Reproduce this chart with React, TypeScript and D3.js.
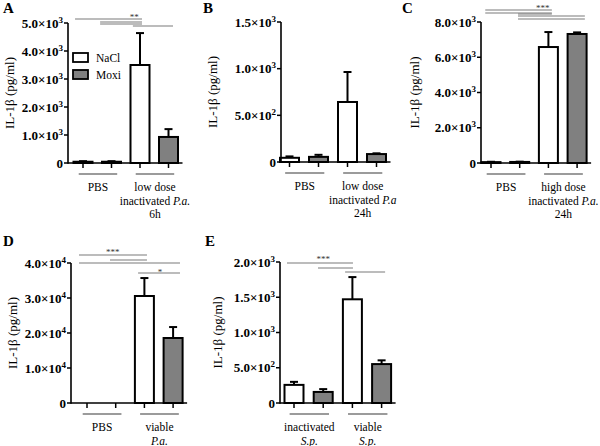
import React from "react";
import * as d3 from "d3";

const W = 600;
const H = 446;
const FONT = "'Liberation Serif', 'Times New Roman', serif";

const seriesNames = ["NaCl", "Moxi"];
const seriesFills = ["#ffffff", "#808080"];

// bar order: PBS NaCl, PBS Moxi, stim NaCl, stim Moxi
const meansA = [45, 45, 3500, 930];
const semA = [20, 20, 1140, 280];
const ticksA = [0, 1000, 2000, 3000, 4000, 5000];

const meansB = [45, 55, 643, 85];
const semB = [15, 22, 321, 8];
const ticksB = [0, 500, 1000, 1500];

const meansC = [50, 60, 6580, 7320];
const semC = [20, 15, 850, 90];
const ticksC = [0, 2000, 4000, 6000, 8000];

const meansD = [0, 0, 30570, 18570];
const semD = [0, 0, 5130, 3130];
const ticksD = [0, 10000, 20000, 30000, 40000];

const meansE = [257, 157, 1471, 552];
const semE = [43, 40, 315, 53];
const ticksE = [0, 500, 1000, 1500, 2000];

type Seg = { t: string; it?: boolean };
const groupsA: Seg[][][] = [
  [[{ t: "PBS" }]],
  [[{ t: "low dose" }], [{ t: "inactivated " }, { t: "P.a.", it: true }], [{ t: "6h" }]],
];
const groupsB: Seg[][][] = [
  [[{ t: "PBS" }]],
  [[{ t: "low dose" }], [{ t: "inactivated " }, { t: "P.a", it: true }], [{ t: "24h" }]],
];
const groupsC: Seg[][][] = [
  [[{ t: "PBS" }]],
  [[{ t: "high dose" }], [{ t: "inactivated " }, { t: "P.a.", it: true }], [{ t: "24h" }]],
];
const groupsD: Seg[][][] = [
  [[{ t: "PBS" }]],
  [[{ t: "viable" }], [{ t: "P.a.", it: true }]],
];
const groupsE: Seg[][][] = [
  [[{ t: "inactivated" }], [{ t: "S.p.", it: true }]],
  [[{ t: "viable" }], [{ t: "S.p.", it: true }]],
];

// significance brackets: [from bar index, to bar index, y position]
const sigA = [[-0.28, 2.07, 19], [0.6, 2.07, 22], [0.6, 2.07, 24], [1.75, 3.16, 26]];
const starsA = [[1.8, 17, "**"]];
const sigC = [[-0.2, 2.12, 10], [-0.2, 2.12, 13], [0.94, 2.12, 14], [0.94, 3.27, 16], [0.94, 3.27, 19]];
const starsC = [[1.8, 8, "***"]];
const sigD = [[-0.28, 2.09, 255], [0.8, 2.09, 260], [-0.28, 3.24, 263], [1.78, 3.24, 273]];
const starsD = [[0.9, 252, "***"], [2.54, 272, "*"]];
const sigE = [[-0.24, 2.02, 263], [0.82, 2.02, 268], [1.75, 3.12, 272]];
const starsE = [[1.0, 259, "***"]];

type PanelCfg = {
  letter: string;
  lx: number;
  ly: number;
  axisX: number;
  c0: number;
  step: number;
  y0: number;
  yTop: number;
  max: number;
  ticks: number[];
  means: number[];
  sem: number[];
  groups: Seg[][][];
  sig: any[];
  stars: any[];
  labelX: number;
  legend?: boolean;
};

const panels: PanelCfg[] = [
  { letter: "A", lx: 3, ly: 13, axisX: 68, c0: 83, step: 28.5, y0: 163, yTop: 23, max: 5000, ticks: ticksA, means: meansA, sem: semA, groups: groupsA, sig: sigA, stars: starsA, labelX: 9, legend: true },
  { letter: "B", lx: 203, ly: 13, axisX: 281, c0: 289.5, step: 29, y0: 162, yTop: 22, max: 1500, ticks: ticksB, means: meansB, sem: semB, groups: groupsB, sig: [], stars: [], labelX: 212 },
  { letter: "C", lx: 402, ly: 13, axisX: 481, c0: 491, step: 28.7, y0: 163, yTop: 22, max: 8000, ticks: ticksC, means: meansC, sem: semC, groups: groupsC, sig: sigC, stars: starsC, labelX: 414 },
  { letter: "D", lx: 3, ly: 246, axisX: 71, c0: 87, step: 28.7, y0: 403, yTop: 263, max: 40000, ticks: ticksD, means: meansD, sem: semD, groups: groupsD, sig: sigD, stars: starsD, labelX: 12 },
  { letter: "E", lx: 205, ly: 246, axisX: 280, c0: 294, step: 29.2, y0: 403, yTop: 262, max: 2000, ticks: ticksE, means: meansE, sem: semE, groups: groupsE, sig: sigE, stars: starsE, labelX: 217 },
];

function tickLabel(v: number) {
  if (v === 0) return <tspan>0</tspan>;
  const e = Math.floor(Math.log10(v));
  const m = (v / Math.pow(10, e)).toFixed(1);
  return (
    <>
      <tspan>{m}×10</tspan>
      <tspan dy={-5} fontSize={9}>{String(e)}</tspan>
    </>
  );
}

function Panel({ p }: { p: PanelCfg }) {
  const y = d3.scaleLinear().domain([0, p.max]).range([p.y0, p.yTop]);
  const x = d3.scaleLinear().domain([0, 3]).range([p.c0, p.c0 + 3 * p.step]);
  const bw = 19;
  const xEnd = x(3) + 14;
  const groupCenters = [(x(-0.15) + x(1.2)) / 2, (x(1.85) + x(3.2)) / 2];
  const grpLines = [[-0.15, 1.2], [1.85, 3.2]];
  return (
    <g>
      <text x={p.lx} y={p.ly} fontSize={15} fontWeight="bold" fontFamily={FONT}>{p.letter}</text>
      {/* y label */}
      <text
        transform={`translate(${p.labelX},${(p.y0 + p.yTop) / 2}) rotate(-90)`}
        textAnchor="middle"
        dy="0.35em"
        fontSize={13}
        fontFamily={FONT}
      >
        IL-1β (pg/ml)
      </text>
      {/* significance */}
      {p.sig.map((s, i) => (
        <line key={"s" + i} x1={x(s[0])} x2={x(s[1])} y1={s[2]} y2={s[2]} stroke="#7a7a7a" strokeWidth={1.2} />
      ))}
      {p.stars.map((s, i) => (
        <text key={"st" + i} x={x(s[0])} y={s[1] + 3} textAnchor="middle" fontSize={9} fontFamily={FONT} fill="#333">{s[2]}</text>
      ))}
      {/* bars */}
      {p.means.map((m, i) => {
        const cx = x(i);
        const top = y(m);
        const et = y(m + p.sem[i]);
        return (
          <g key={"b" + i}>
            {p.sem[i] > 0 && (
              <>
                <line x1={cx} x2={cx} y1={top} y2={et} stroke="#000" strokeWidth={2} />
                <line x1={cx - 4} x2={cx + 4} y1={et} y2={et} stroke="#000" strokeWidth={2} />
              </>
            )}
            <rect x={cx - bw / 2} y={top} width={bw} height={Math.max(0, p.y0 - top)} fill={seriesFills[i % 2]} stroke="#000" strokeWidth={2} />
            <line x1={cx} x2={cx} y1={p.y0} y2={p.y0 + 5} stroke="#000" strokeWidth={1.5} />
          </g>
        );
      })}
      {/* axes */}
      <line x1={p.axisX} x2={xEnd} y1={p.y0} y2={p.y0} stroke="#000" strokeWidth={1.6} />
      <line x1={p.axisX} x2={p.axisX} y1={p.y0 + 0.8} y2={p.yTop} stroke="#000" strokeWidth={1.6} />
      {p.ticks.map((t) => (
        <g key={"t" + t}>
          <line x1={p.axisX - 4} x2={p.axisX} y1={y(t)} y2={y(t)} stroke="#000" strokeWidth={1.5} />
          <text x={p.axisX - 5} y={y(t)} dy="0.35em" textAnchor="end" fontSize={13} fontWeight="bold" fontFamily={FONT}>
            {tickLabel(t)}
          </text>
        </g>
      ))}
      {/* group lines & labels */}
      {grpLines.map((g, i) => (
        <line key={"g" + i} x1={x(g[0])} x2={x(g[1])} y1={p.y0 + 11} y2={p.y0 + 11} stroke="#7a7a7a" strokeWidth={1.3} />
      ))}
      {p.groups.map((lines, gi) => (
        <text key={"gl" + gi} textAnchor="middle" fontSize={11.5} fontFamily={FONT}>
          {lines.map((segs, li) => (
            <tspan key={li} x={groupCenters[gi]} y={p.y0 + 28 + li * 13.5}>
              {segs.map((s, si) => (
                <tspan key={si} fontStyle={s.it ? "italic" : "normal"}>{s.t}</tspan>
              ))}
            </tspan>
          ))}
        </text>
      ))}
      {p.legend && (
        <g>
          {seriesNames.map((n, i) => (
            <g key={n}>
              <rect x={73} y={53 + i * 17} width={15} height={9} fill={seriesFills[i]} stroke="#000" strokeWidth={1.8} />
              <text x={96} y={62 + i * 17} fontSize={11.5} fontFamily={FONT}>{n}</text>
            </g>
          ))}
        </g>
      )}
    </g>
  );
}

export default function App() {
  return (
    <svg width={W} height={H} style={{ position: "absolute", left: 0, top: 0, background: "#fff" }}>
      <rect width={W} height={H} fill="#fff" />
      {panels.map((p) => (
        <Panel key={p.letter} p={p} />
      ))}
    </svg>
  );
}
